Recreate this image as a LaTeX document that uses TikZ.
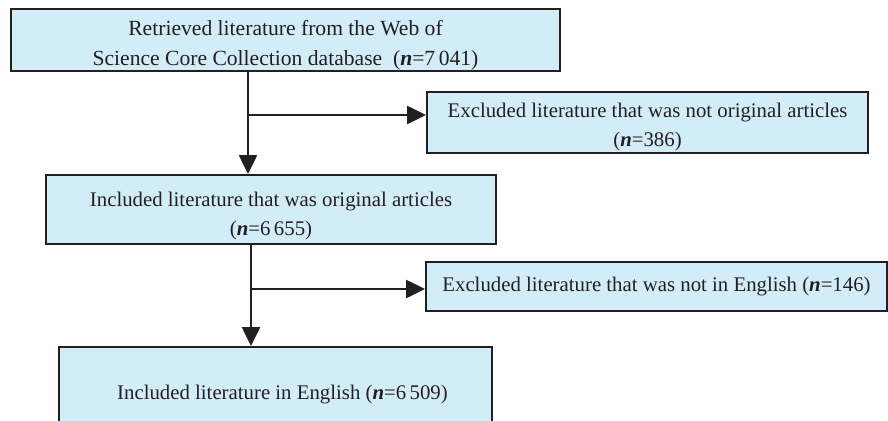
\documentclass[tikz,border=0pt]{standalone}
\usepackage{fontspec}
\setmainfont{Liberation Serif}
\usetikzlibrary{arrows.meta,calc}
\definecolor{boxfill}{HTML}{D3EDF8}
\definecolor{ink}{HTML}{231F20}
\newcommand{\nn}{\textbf{\textit{n}}}
\newcommand{\toppad}[1]{\rule{0pt}{#1}}
\begin{document}
\begin{tikzpicture}[x=1pt,y=-1pt,
  flowbox/.style={draw=ink,fill=boxfill,line width=2pt,inner sep=0pt,
    align=center,text=ink,font=\fontsize{20.8}{29}\selectfont},
  bigtext/.style={font=\fontsize{21.6}{30}\selectfont},
  flowarrow/.style={draw=ink,line width=2.6pt,-{Triangle[length=19pt,width=18pt]}}]
\useasboundingbox (0,0) rectangle (888,420);
\node[flowbox,bigtext,minimum width=549pt,minimum height=62pt] (box1) at (285.5,40)
  {\toppad{25pt}Retrieved literature from the Web of\\Science Core Collection database\ \ (\nn=7\,041)};
\node[flowbox,minimum width=441pt,minimum height=61pt] (box2) at (647.5,122.5)
  {\toppad{23pt}Excluded literature that was not original articles\\(\nn=386)};
\node[flowbox,minimum width=450pt,minimum height=69pt] (box3) at (271,209.5)
  {\toppad{27pt}Included literature that was original articles\\(\nn=6\,655)};
\node[flowbox,minimum width=461pt,minimum height=49pt] (box4) at (656.5,286.5)
  {Excluded literature that was not in English (\nn=146)};
\node[flowbox,minimum width=433pt,minimum height=96pt] (box5) at (275.5,395)
  {\hspace*{14pt}Included literature in English (\nn=6\,509)};
\coordinate (j1) at (248,115);
\coordinate (j2) at (251,289);
\draw[flowarrow] (j1 |- box1.south) -- (j1 |- box3.north);
\draw[flowarrow] (j1) -- (j1 -| box2.west);
\draw[flowarrow] (j2 |- box3.south) -- (j2 |- box5.north);
\draw[flowarrow] (j2) -- (j2 -| box4.west);
\end{tikzpicture}
\end{document}
